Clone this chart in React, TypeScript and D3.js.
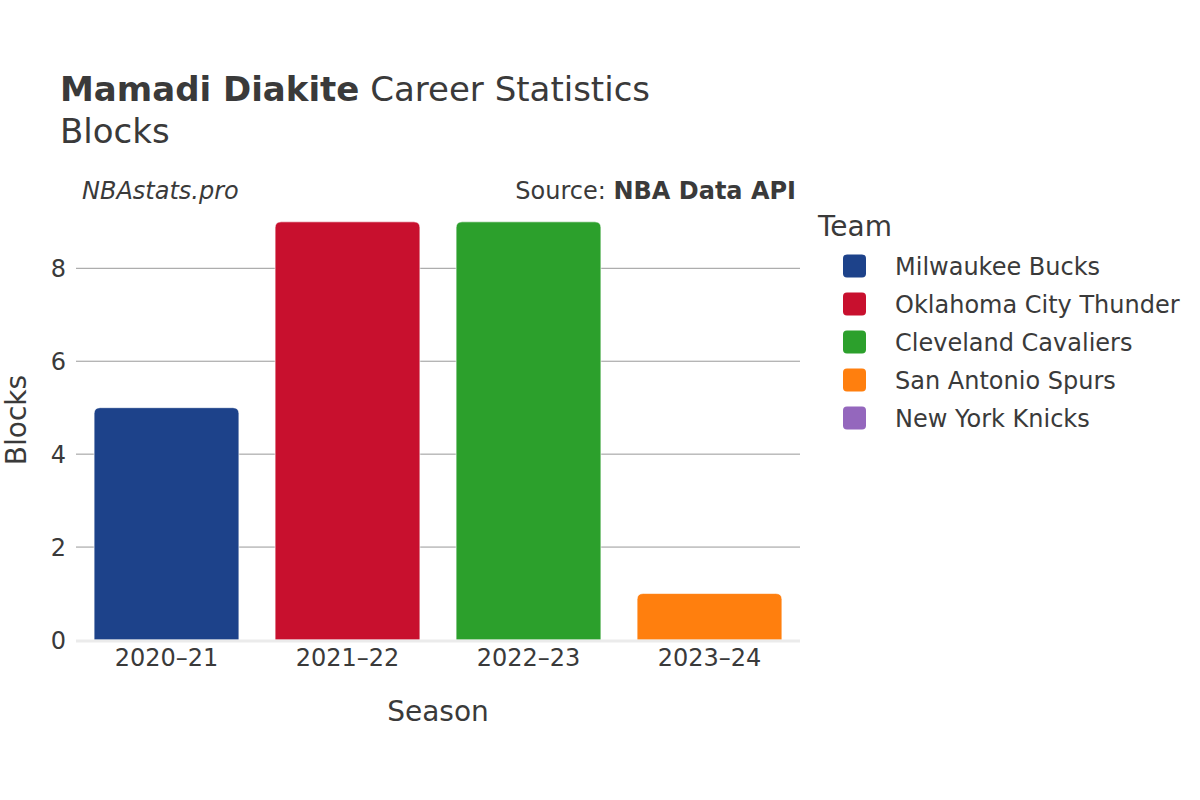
import React from "react";
import * as d3 from "d3";

const seasons = ["2020–21", "2021–22", "2022–23", "2023–24"];
const blocks = [5, 9, 9, 1];
const barTeams = ["Milwaukee Bucks", "Oklahoma City Thunder", "Cleveland Cavaliers", "San Antonio Spurs"];
const legendTeams = ["Milwaukee Bucks", "Oklahoma City Thunder", "Cleveland Cavaliers", "San Antonio Spurs", "New York Knicks"];
const teamColors = ["#1d428a", "#c8102e", "#2ca02c", "#ff7f0e", "#9467bd"];
const yTicks = [0, 2, 4, 6, 8];

const W = 1200, H = 800;
const plot = { left: 76, right: 800, top: 200, bottom: 640 };
const FONT = "'DejaVu Sans', Verdana, sans-serif";
const TEXT = "#3a3a3a";

function roundedTopRect(x: number, y: number, w: number, h: number, r: number) {
  const rr = Math.min(r, h / 2, w / 2);
  return `M${x},${y + h}V${y + rr}Q${x},${y} ${x + rr},${y}H${x + w - rr}Q${x + w},${y} ${x + w},${y + rr}V${y + h}Z`;
}

export default function App() {
  const x = d3.scaleBand<string>().domain(seasons).range([plot.left, plot.right]).paddingInner(0.2).paddingOuter(0.1);
  const y = d3.scaleLinear().domain([0, 9.47]).range([plot.bottom, plot.top]);
  const color = d3.scaleOrdinal<string, string>().domain(legendTeams).range(teamColors);

  return (
    <svg width={W} height={H} style={{ display: "block", position: "absolute", left: 0, top: 0 }} fontFamily={FONT}>
      <rect width={W} height={H} fill="#fff" />
      <text x={60} y={101} fontSize={34} fill={TEXT}>
        <tspan fontWeight="bold">Mamadi Diakite</tspan>
        <tspan> Career Statistics</tspan>
      </text>
      <text x={60} y={143} fontSize={34} fill={TEXT}>Blocks</text>
      <text x={82} y={199} fontSize={24} fontStyle="italic" fill={TEXT}>NBAstats.pro</text>
      <text x={796} y={199} fontSize={24} textAnchor="end" fill={TEXT}>
        <tspan>Source: </tspan>
        <tspan fontWeight="bold">NBA Data API</tspan>
      </text>

      {yTicks.filter(t => t > 0).map(t => (
        <line key={t} x1={plot.left} x2={plot.right} y1={y(t)} y2={y(t)} stroke="#999" strokeWidth={1} />
      ))}
      {yTicks.map(t => (
        <text key={t} x={plot.left - 10} y={y(t)} dy="0.36em" fontSize={24} textAnchor="end" fill={TEXT}>{t}</text>
      ))}

      {seasons.map((s, i) => {
        const bx = x(s)!;
        const bw = x.bandwidth();
        const by = y(blocks[i]);
        return (
          <path key={s} d={roundedTopRect(bx, by, bw, y(0) - by, 6)} fill={color(barTeams[i])} stroke="#fff" strokeOpacity={0.6} strokeWidth={1} />
        );
      })}
      <line x1={plot.left} x2={plot.right} y1={y(0) + 1} y2={y(0) + 1} stroke="#ebebeb" strokeWidth={3} />

      {seasons.map(s => (
        <text key={s} x={x(s)! + x.bandwidth() / 2} y={666} fontSize={24} textAnchor="middle" fill={TEXT}>{s}</text>
      ))}

      <text x={(plot.left + plot.right) / 2} y={721} fontSize={28} textAnchor="middle" fill={TEXT}>Season</text>
      <text transform={`translate(26,${(plot.top + plot.bottom) / 2}) rotate(-90)`} fontSize={28} textAnchor="middle" fill={TEXT}>Blocks</text>

      <text x={818} y={236} fontSize={28} fill={TEXT}>Team</text>
      {legendTeams.map((t, i) => {
        const cy = 266 + i * 38;
        return (
          <g key={t}>
            <rect x={843} y={cy - 11.5} width={23} height={23} rx={4} fill={color(t)} />
            <text x={895} y={cy} dy="0.36em" fontSize={24} fill={TEXT}>{t}</text>
          </g>
        );
      })}
    </svg>
  );
}
